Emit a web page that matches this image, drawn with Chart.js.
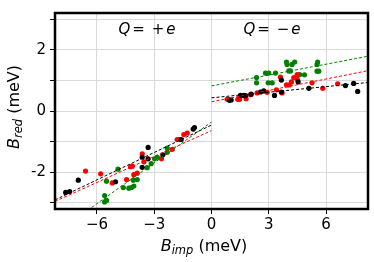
<!DOCTYPE html>
<html><head><meta charset="utf-8">
<script src="https://cdn.jsdelivr.net/npm/chart.js@4"></script>
<style>html,body{margin:0;padding:0;background:#fff;}#wrap{width:374px;height:262px;}</style>
</head><body><div id="wrap"><canvas id="c" width="374" height="262"></canvas></div>
<script>
// Data (B_imp, B_red in meV)
const blackX = [-7.64,-7.43,-6.98,-5.03,-3.63,-3.63,-3.32,-3.32,-2.55,-1.59,-0.96,-0.89,
                0.94,1.03,1.52,1.69,1.78,2.08,2.57,2.74,3.30,3.66,3.66,4.54,5.10,7.02,7.45,7.66];
const blackY = [-2.66,-2.63,-2.26,-2.31,-1.84,-1.51,-1.19,-1.56,-1.43,-0.93,-0.59,-0.54,
                0.35,0.36,0.51,0.51,0.50,0.55,0.62,0.66,0.51,0.62,1.01,0.95,0.74,0.83,0.90,0.64];
const redX = [-6.60,-5.81,-5.20,-4.45,-4.24,-4.15,-4.07,-3.89,-3.63,-3.54,-2.62,-2.06,-1.80,-1.72,-1.45,-1.27,
              0.82,0.90,1.38,1.47,1.81,2.04,2.39,2.91,3.40,3.70,3.61,3.93,4.07,4.19,4.31,4.49,4.49,5.27,5.83,6.61];
const redY = [-1.96,-2.05,-2.35,-2.24,-1.82,-1.80,-2.08,-2.03,-1.40,-1.66,-1.56,-1.25,-0.93,-0.93,-0.77,-0.72,
              0.38,0.38,0.38,0.38,0.40,0.53,0.59,0.61,0.69,0.59,1.11,0.85,0.85,0.95,1.09,1.04,1.19,0.92,0.74,0.89];
const greenX = [-5.60,-5.50,-5.60,-5.50,-4.90,-4.62,-4.33,-4.20,-4.07,-4.10,-3.89,-3.37,-3.16,-2.98,-2.84,-2.32,-2.32,
                2.36,2.36,2.83,3.00,2.97,3.18,3.35,3.93,3.96,4.05,4.14,4.22,4.36,4.62,4.87,5.53,5.56,5.53,5.62];
const greenY = [-2.76,-2.92,-2.97,-2.29,-1.90,-2.50,-2.52,-2.50,-2.45,-2.26,-2.24,-1.85,-1.72,-1.56,-1.51,-1.21,-1.35,
                1.09,0.92,1.24,1.24,0.92,0.92,1.24,1.60,1.52,1.31,1.31,1.52,1.60,1.19,1.18,1.52,1.60,1.30,1.30];
// Linear fits: [left half (Q=+e), right half (Q=-e)]
const fitSlope = { black: [0.298, 0.061], red: [0.282, 0.124], green: [0.444, 0.118] };
const fitIntercept = { black: [-0.46, 0.43], red: [-0.64, 0.30], green: [-0.36, 0.82] };
const xTicks = [-6, -3, 0, 3, 6];
const yTicks = [-3, -2, -1, 0, 1, 2, 3];
const yLabeled = [-2, 0, 2];
const X_MIN = -8.2, X_MAX = 8.2, Y_MIN = -3.2, Y_MAX = 3.2;

const colors = { black: '#000000', red: '#ff0000', green: '#008000' };
function pts(xs, ys) { return xs.map((x, i) => ({ x: x, y: ys[i] })); }
function fitLine(name, half) {
  const a = fitSlope[name][half], b = fitIntercept[name][half];
  const x0 = half === 0 ? X_MIN : 0, x1 = half === 0 ? 0 : X_MAX;
  return [{ x: x0, y: a * x0 + b }, { x: x1, y: a * x1 + b }];
}
const datasets = [];
[['black', blackX, blackY], ['red', redX, redY], ['green', greenX, greenY]].forEach(([n, xs, ys]) => {
  datasets.push({ type: 'scatter', data: pts(xs, ys), backgroundColor: colors[n], borderColor: colors[n],
    pointRadius: 2.6, pointBorderWidth: 0, order: 2 });
});
['black', 'red', 'green'].forEach(n => {
  [0, 1].forEach(h => datasets.push({ type: 'line', data: fitLine(n, h), borderColor: colors[n],
    borderWidth: 1, borderDash: [3, 2], pointRadius: 0, fill: false, order: 1 }));
});

const deco = {
  id: 'deco',
  afterDraw(chart) {
    const ctx = chart.ctx, a = chart.chartArea;
    ctx.save();
    ctx.strokeStyle = '#000'; ctx.lineWidth = 2.5;
    ctx.strokeRect(a.left, a.top, a.right - a.left, a.bottom - a.top);
    ctx.fillStyle = '#000';
    const fam = '"DejaVu Sans", sans-serif';
    function sub(main, s, rest, cx, cy) {
      ctx.font = 'italic 16px ' + fam; const w1 = ctx.measureText(main).width;
      ctx.font = 'italic 11.5px ' + fam; const w2 = ctx.measureText(s).width;
      ctx.font = '16px ' + fam; const w3 = ctx.measureText(rest).width;
      let x = cx - (w1 + w2 + w3) / 2;
      ctx.textBaseline = 'middle'; ctx.textAlign = 'left';
      ctx.font = 'italic 16px ' + fam; ctx.fillText(main, x, cy); x += w1;
      ctx.font = 'italic 11.5px ' + fam; ctx.fillText(s, x, cy + 4); x += w2;
      ctx.font = '16px ' + fam; ctx.fillText(rest, x, cy);
    }
    sub('B', 'imp', ' (meV)', 204, 247);
    ctx.save(); ctx.translate(15, 107); ctx.rotate(-Math.PI / 2);
    sub('B', 'red', ' (meV)', 0, 0);
    ctx.restore();
    function q(sign, cx, cy) {
      const parts = [['Q', 'italic'], ['= ', ''], [sign, ''], ['e', 'italic']];
      let tw = 0;
      parts.forEach(p => { ctx.font = (p[1] ? 'italic ' : '') + '15px ' + fam; tw += ctx.measureText(p[0]).width + 2; });
      let x = cx - tw / 2;
      ctx.textBaseline = 'middle'; ctx.textAlign = 'left';
      parts.forEach(p => { ctx.font = (p[1] ? 'italic ' : '') + '15px ' + fam; ctx.fillText(p[0], x, cy); x += ctx.measureText(p[0]).width + 2; });
    }
    q('+', 148, 30);
    q('\u2212', 273, 30);
    ctx.restore();
  }
};

new Chart(document.getElementById('c'), {
  data: { datasets },
  options: {
    responsive: false, animation: false,
    layout: { padding: { left: 0, right: 6, top: 5, bottom: 0 } },
    plugins: { legend: { display: false }, tooltip: { enabled: false } },
    scales: {
      x: {
        type: 'linear', min: X_MIN, max: X_MAX,
        afterBuildTicks: s => { s.ticks = xTicks.map(v => ({ value: v })); },
        afterFit: s => { s.height = 53; },
        grid: { color: '#d9d9d9', lineWidth: 1, tickColor: '#000', tickLength: 5, drawTicks: true },
        border: { display: false },
        ticks: { color: '#000', font: { family: 'DejaVu Sans', size: 15 }, padding: 2,
          callback: v => (v < 0 ? '\u2212' + Math.abs(v) : String(v)) }
      },
      y: {
        type: 'linear', min: Y_MIN, max: Y_MAX,
        afterBuildTicks: s => { s.ticks = yTicks.map(v => ({ value: v })); },
        afterFit: s => { s.width = 55; },
        grid: { color: '#d9d9d9', lineWidth: 1, tickColor: '#000', tickLength: 5, drawTicks: true },
        border: { display: false },
        ticks: { color: '#000', font: { family: 'DejaVu Sans', size: 15 }, padding: 4,
          callback: v => (yLabeled.includes(v) ? String(v) : '') }
      }
    }
  },
  plugins: [deco]
});
</script></body></html>
